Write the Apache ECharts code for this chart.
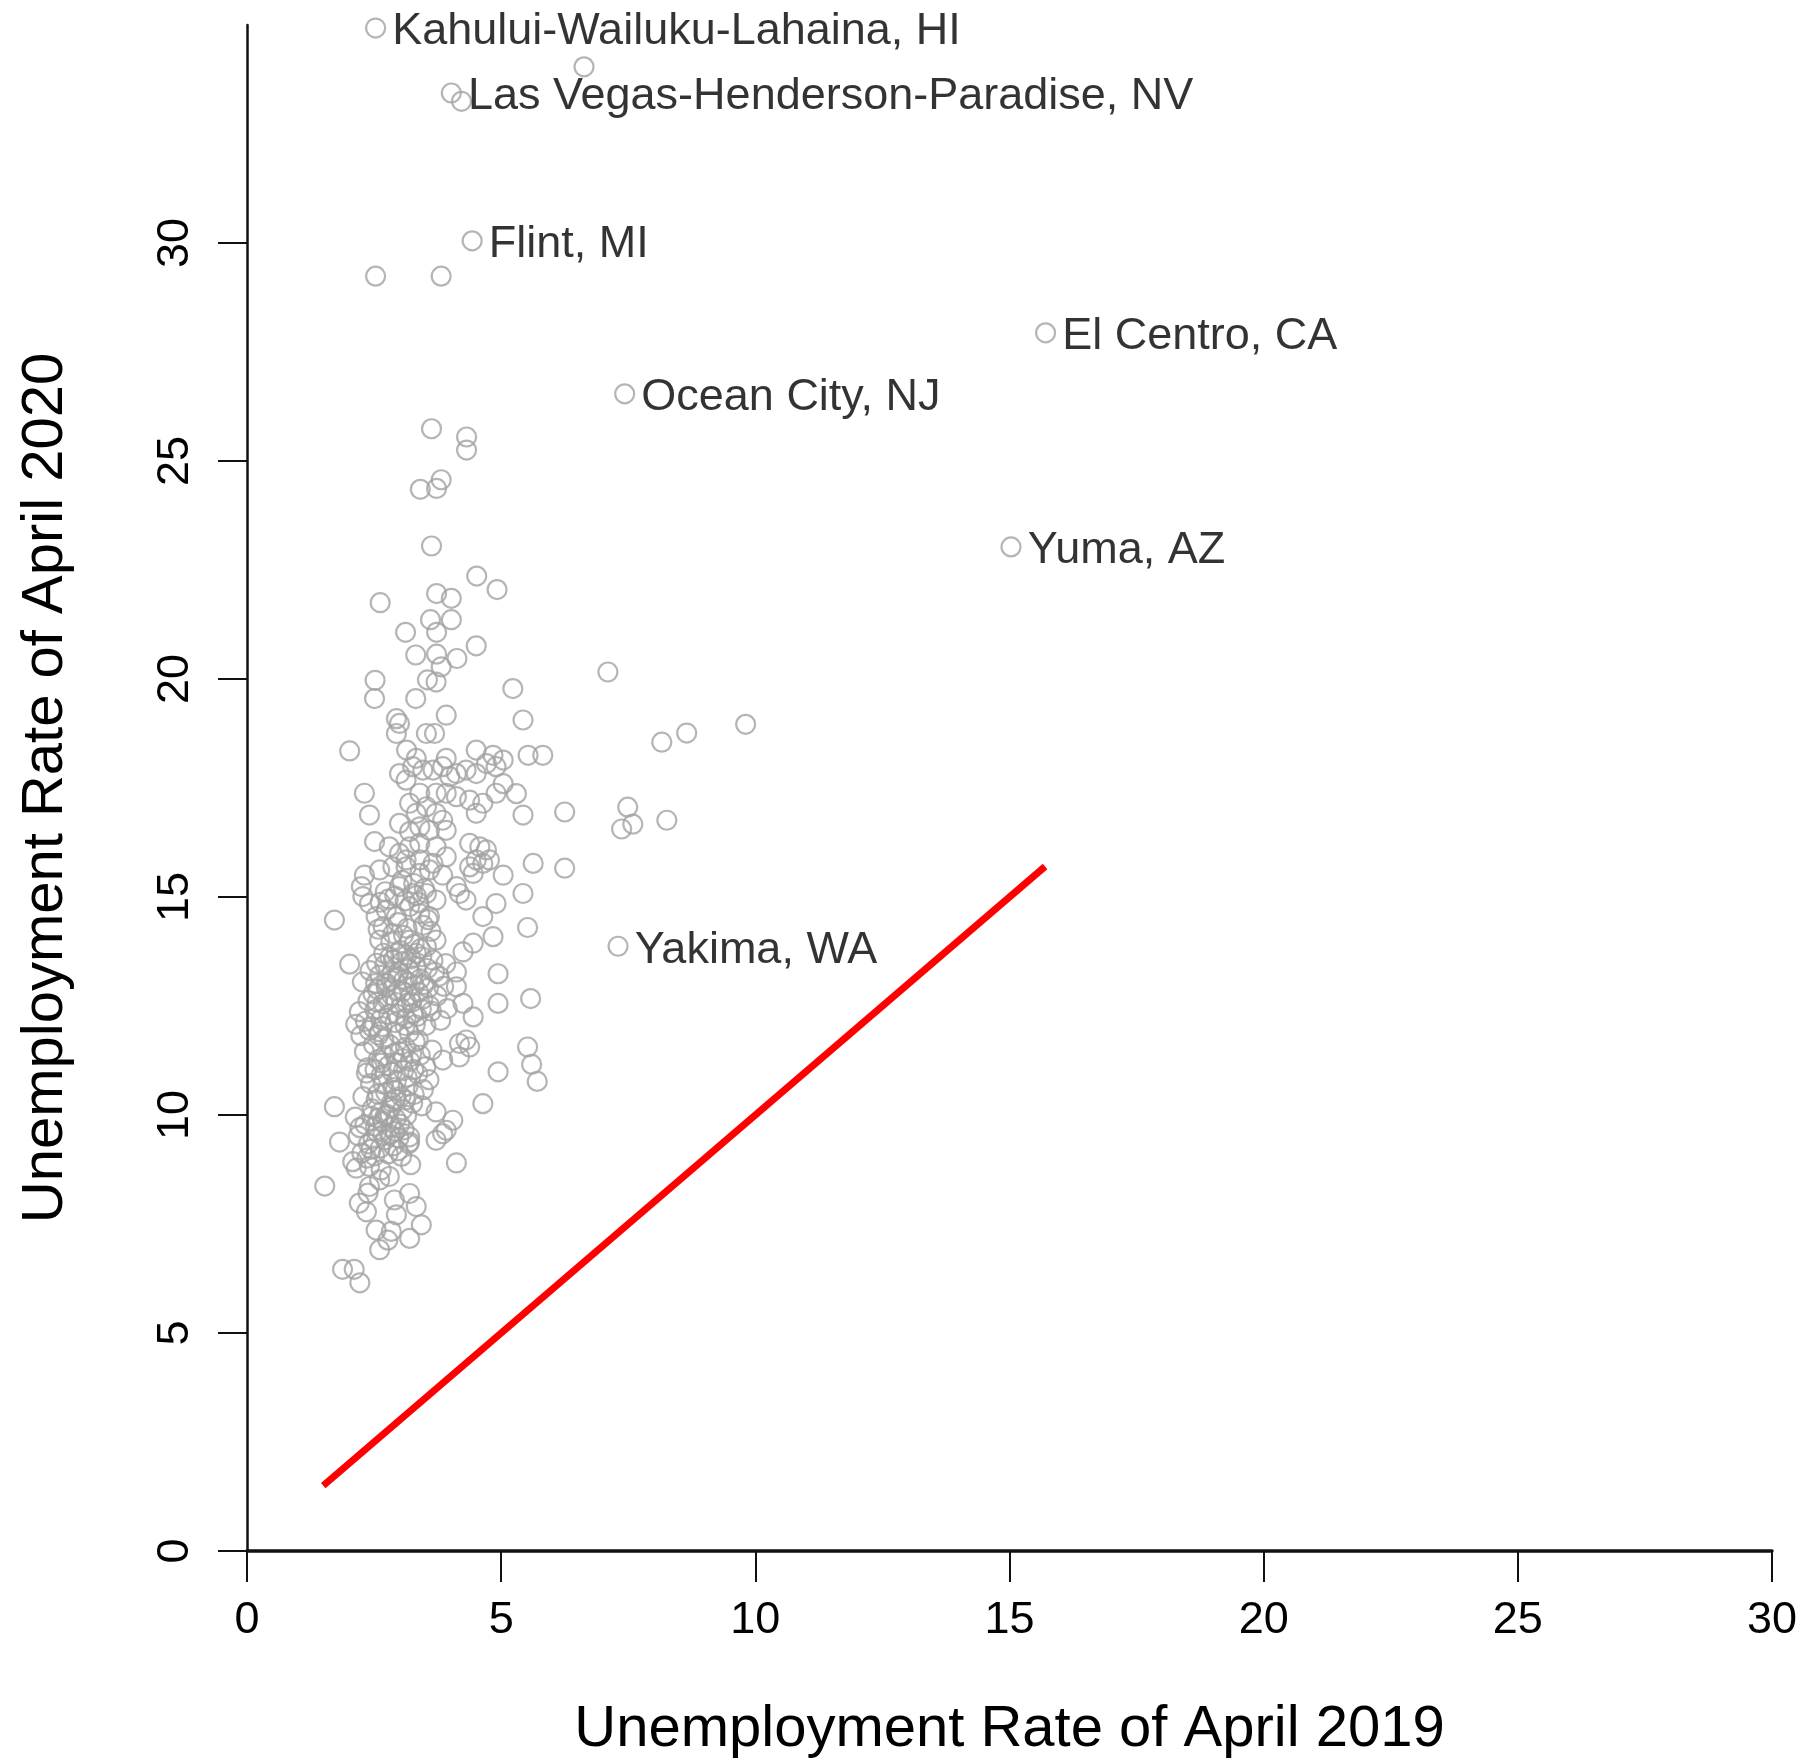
<!DOCTYPE html>
<html>
<head>
<meta charset="utf-8">
<script src="https://cdn.jsdelivr.net/npm/echarts@6/dist/echarts.min.js"></script>
<style>
  html, body { margin: 0; padding: 0; background: #fff; }
  #chart { width: 1804px; height: 1760px; }
</style>
</head>
<body>
<div id="chart"></div>
<script>
// tick values
const xTicks = [0, 5, 10, 15, 20, 25, 30]
const yTicks = [0, 5, 10, 15, 20, 25, 30]

// labelled metro areas: [rate 2019, rate 2020]
const labelNames = ['Kahului-Wailuku-Lahaina, HI', 'Las Vegas-Henderson-Paradise, NV', 'Flint, MI',
  'El Centro, CA', 'Ocean City, NJ', 'Yuma, AZ', 'Yakima, WA']
const labelX = [2.53, 4.02, 4.43, 15.71, 7.43, 15.03, 7.30]
const labelY = [34.93, 33.44, 30.05, 27.94, 26.54, 23.03, 13.87]

// y = x reference line, over the range of 2019 rates
const diagonal = [1.5, 15.7]

// other metro areas
const upperMetros = [[6.63,34.04],[4.22,33.25],[2.53,29.24],[3.82,29.24],[3.63,25.74],[4.32,25.55],[4.32,25.25],
  [3.82,24.57],[3.73,24.37],[3.41,24.35],[3.63,23.05],[4.52,22.36],[4.92,22.05],[2.62,21.75],[3.73,21.96],[4.02,21.85],
  [3.61,21.36],[4.02,21.36],[3.12,21.07],[3.73,21.07],[4.51,20.76],[3.32,20.55],[3.73,20.57],[4.13,20.47],[3.82,20.28],
  [2.52,19.97],[3.55,19.98],[3.72,19.93],[7.10,20.16],[5.23,19.78],[2.51,19.55],[3.32,19.55],[5.43,19.06],[3.92,19.17],
  [2.94,19.09],[3.00,18.98],[2.94,18.75],[3.53,18.75],[3.69,18.75],[2.02,18.35],[3.14,18.37],[3.33,18.18],[3.92,18.18],
  [4.51,18.37],[4.84,18.25],[5.04,18.14],[5.53,18.25],[5.82,18.25],[8.16,18.55],[8.65,18.76],[9.81,18.96]]

const midMetros = [[2.31,17.38],[2.41,16.88],[3.00,16.69],[3.20,16.50],[3.40,16.61],[2.51,16.27],[2.80,16.15],[3.00,16.00],
  [1.72,14.47],[2.31,15.50],[2.25,15.24],[2.28,15.01],[2.41,14.85],[2.61,15.62],[2.87,15.69],[3.13,15.69],[3.40,15.54],
  [3.59,15.62],[3.85,15.50],[3.00,15.24],[3.26,15.08],[3.53,15.08],[3.72,14.93],[3.20,14.78],[3.40,14.62],[3.59,14.55],
  [2.94,14.55],[2.74,14.70],[2.54,14.55],[4.64,14.55],[4.90,14.85],[5.04,15.50],[4.31,14.93],[4.18,15.08],[4.12,15.24],
  [4.45,13.94],[4.25,13.74],[4.84,14.09],[2.61,14.01],[2.87,14.16],[3.20,14.01],[3.53,13.86],[3.72,14.01],[2.94,13.71],
  [3.33,13.71],[3.00,17.83],[3.13,17.68],[3.26,17.99],[3.46,17.91],[3.66,17.91],[3.85,17.99],[3.99,17.76],[4.12,17.83],
  [4.31,17.91],[4.51,17.83],[4.71,18.06],[4.90,17.99],[5.04,17.60],[4.90,17.38],[4.64,17.15],[4.51,16.92],[4.38,17.22],
  [4.12,17.30],[3.92,17.38],[3.72,17.38],[3.40,17.38],[3.20,17.15],[3.33,16.92],[3.53,17.07],[3.72,16.92],[3.85,16.76],
  [3.92,16.53],[3.59,16.53],[3.20,16.15],[3.40,16.23],[3.72,16.15],[3.92,15.92],[3.66,15.77],[3.40,15.85],[3.13,15.85],
  [4.38,16.23],[4.58,16.15],[4.71,16.08],[4.77,15.85],[4.51,15.85],[4.38,15.69],[4.45,15.54],[4.64,15.77],
  [2.68,14.32],[2.97,14.41],[3.15,14.28],[3.47,14.35],[3.62,14.21],[2.83,13.97],[3.08,14.12],[3.29,13.92],[3.56,14.48],
  [2.58,14.26],[3.38,14.87],[3.05,15.38],[3.28,15.31],[2.72,15.12],[3.49,15.19]]

const rightMetros = [[5.30,17.37],[5.43,16.88],[6.25,16.95],[7.49,17.06],[7.37,16.56],[7.59,16.67],[8.26,16.76],
  [5.63,15.77],[6.25,15.66],[5.43,15.08],[5.52,14.30],[5.58,12.67],[5.52,11.56],[5.60,11.16],[5.71,10.77]]

const coreMetros = [[2.14,12.08],[2.21,12.37],[2.33,12.15],[2.38,12.62],[2.46,12.02],[2.52,12.41],[2.57,12.88],[2.63,12.19],
  [2.68,12.55],[2.74,13.02],[2.79,12.31],[2.85,12.74],[2.91,12.12],[2.96,13.18],[3.02,12.46],[3.07,12.83],[3.13,12.21],
  [3.18,13.35],[3.24,12.58],[3.29,12.97],[3.35,12.26],[3.41,13.12],[3.46,12.66],[3.52,12.05],[3.57,12.91],[3.63,12.38],
  [3.69,13.27],[3.74,12.73],[3.81,12.17],[3.87,12.95],[3.94,12.44],[2.27,13.05],[2.42,13.31],[2.55,13.48],[2.61,13.21],
  [2.71,13.44],[2.83,13.09],[2.88,13.56],[2.99,13.29],[3.05,13.52],[3.16,13.04],[3.22,13.58],[3.33,13.41],[3.44,13.63],
  [3.55,13.36],[3.66,13.55],[3.78,13.18],[3.91,13.47],[2.48,12.78],[2.93,12.58],[3.11,12.05],[3.38,12.81],[3.59,12.51],
  [2.66,12.03],[3.27,12.33],
  [2.24,11.82],[2.31,11.45],[2.37,11.08],[2.43,10.72],[2.49,11.61],[2.54,10.35],[2.58,11.27],[2.64,10.91],[2.69,11.74],
  [2.73,10.52],[2.78,11.13],[2.84,10.18],[2.89,11.41],[2.94,10.79],[2.98,11.86],[3.03,10.43],[3.08,11.02],[3.12,11.55],
  [3.17,10.66],[3.21,11.23],[3.26,10.27],[3.31,11.68],[3.36,10.94],[3.41,11.37],[3.47,10.58],[3.52,11.11],[3.58,10.81],
  [3.64,11.49],[2.28,10.42],[2.35,10.96],[2.46,10.14],[2.61,11.91],[2.76,10.01],[2.87,10.63],[2.96,11.19],[3.06,10.12],
  [3.15,10.87],[3.29,10.47],[3.44,10.21],[2.52,11.04],[2.71,11.36],[2.92,10.36],[3.19,11.89],[3.37,11.72],[2.41,11.94],
  [2.13,9.95],[2.19,9.52],[2.26,9.13],[2.32,9.78],[2.39,9.34],[2.45,9.97],[2.51,9.06],[2.56,9.61],[2.62,9.24],[2.67,9.85],
  [2.72,9.43],[2.78,9.11],[2.83,9.72],[2.88,9.29],[2.93,9.91],[2.99,9.47],[3.04,9.05],[3.09,9.66],[3.14,9.99],[2.36,9.01],
  [2.58,9.92],[2.81,9.55],[2.97,9.18],[2.22,9.71],[2.48,9.45],
  [2.62,14.88],[2.78,14.95],[2.91,15.02],[3.11,14.91],[3.33,15.03],[2.69,13.71],[2.81,13.62],[3.02,13.77],[3.14,13.66],
  [3.41,13.81],[2.74,12.93],[2.86,13.27],[3.09,13.11],[3.26,13.19],[3.48,12.99],[2.53,13.02],[2.77,12.64],[2.97,12.85],
  [3.21,12.72],[3.43,12.43],[2.59,11.83],[2.81,11.61],[3.01,11.45],[3.24,11.41],[2.65,11.19],[2.86,10.98],[3.07,11.29],
  [3.28,11.04],[2.68,10.71],[2.91,10.56],[3.12,10.34],[2.57,10.48],[2.63,10.06],[2.85,10.29],[3.01,9.79],[2.72,9.98],
  [2.53,9.74],[2.91,9.62],[3.18,9.34],[2.44,9.21],[2.67,9.54],[2.95,12.31],[3.15,12.56],[2.56,12.59],[3.31,12.07]]

const lowerMetros = [[2.02,13.46],[4.12,13.28],[4.94,13.24],[4.94,12.56],[4.45,12.25],[4.25,12.56],[4.12,12.94],
  [4.31,11.72],[4.18,11.64],[4.38,11.56],[3.85,11.26],[4.18,11.33],[4.94,10.99],[4.64,10.26],[1.72,10.19],[3.72,10.07],
  [4.05,9.88],[3.85,9.57],[3.72,9.42],[3.92,9.65],[1.82,9.38],[3.20,9.50],[3.20,9.38],[4.12,8.90],
  [1.53,8.37],[2.15,8.78],[2.08,8.93],[2.41,8.82],[2.64,8.74],[2.80,8.59],[3.22,8.86],[2.41,8.36],[2.61,8.51],[2.38,8.21],
  [2.21,7.98],[2.35,7.78],[2.90,8.05],[3.20,8.20],[3.33,7.90],[3.43,7.48],[3.20,7.17],[2.84,7.33],[2.77,7.13],[2.61,6.91],
  [2.94,7.71],[2.54,7.36],[1.88,6.46],[2.11,6.46],[2.22,6.15]]

const font = "'Liberation Sans', Arial, Helvetica, sans-serif"
const gray = '#a3a3a3'

const chart = echarts.init(document.getElementById('chart'), null, { renderer: 'canvas' })

const pointStyle = { color: 'rgba(0,0,0,0)', borderColor: gray, borderWidth: 2.2 }

const option = {
  animation: false,
  grid: { left: 247, right: 32, top: 25, bottom: 209, outerBoundsMode: 'none' },
  xAxis: {
    type: 'value', min: 0, max: 30, interval: 5,
    name: 'Unemployment Rate of April 2019',
    nameLocation: 'middle', nameGap: 150,
    nameTextStyle: { fontFamily: font, fontSize: 58, color: '#000' },
    axisLine: { show: true, lineStyle: { color: '#111', width: 3.5 } },
    axisTick: { show: true, length: 31, lineStyle: { color: '#111', width: 2 } },
    axisLabel: { margin: 47, fontFamily: font, fontSize: 45, color: '#000' },
    splitLine: { show: false }
  },
  yAxis: {
    type: 'value', min: 0, max: 35, interval: 5,
    name: 'Unemployment Rate of April 2020',
    nameLocation: 'middle', nameGap: 172,
    nameTextStyle: { fontFamily: font, fontSize: 58, color: '#000' },
    axisLine: { show: true, lineStyle: { color: '#111', width: 2.5 } },
    axisTick: { show: true, length: 29, customValues: yTicks, lineStyle: { color: '#111', width: 2 } },
    axisLabel: { customValues: yTicks, rotate: 90, margin: 49, fontFamily: font, fontSize: 45, color: '#000' },
    splitLine: { show: false }
  },
  series: [
    {
      type: 'scatter', symbol: 'circle', symbolSize: 19,
      itemStyle: pointStyle,
      data: [].concat(upperMetros, midMetros, rightMetros, coreMetros, lowerMetros)
    },
    {
      type: 'line', symbol: 'none',
      lineStyle: { color: '#ff0000', width: 7 },
      data: [[diagonal[0], diagonal[0]], [diagonal[1], diagonal[1]]],
      z: 3
    },
    {
      type: 'scatter', symbol: 'circle', symbolSize: 19,
      itemStyle: pointStyle,
      label: {
        show: true, position: 'right', distance: 6, offset: [0, 4],
        fontFamily: font, fontSize: 45, color: '#000',
        formatter: p => p.name
      },
      data: labelNames.map((n, i) => ({ name: n, value: [labelX[i], labelY[i]] })),
      z: 4
    }
  ]
}

chart.setOption(option)
</script>
</body>
</html>
